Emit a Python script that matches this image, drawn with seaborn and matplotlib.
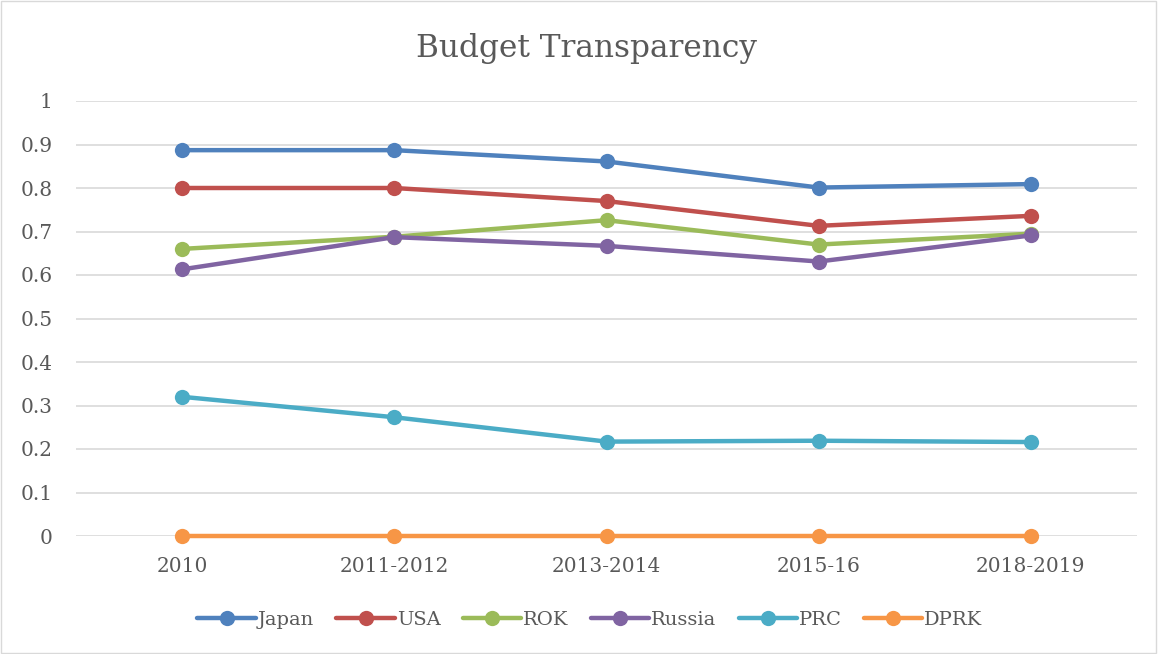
import matplotlib
matplotlib.use("Agg")
import matplotlib.pyplot as plt
import seaborn as sns
import pandas as pd
from matplotlib.lines import Line2D
from matplotlib.patches import Rectangle

periods = ["2010", "2011-2012", "2013-2014", "2015-16", "2018-2019"]
japan = [0.887, 0.887, 0.861, 0.801, 0.809]
usa = [0.800, 0.800, 0.770, 0.713, 0.736]
rok = [0.660, 0.688, 0.726, 0.670, 0.695]
russia = [0.613, 0.687, 0.667, 0.631, 0.691]
prc = [0.320, 0.273, 0.217, 0.219, 0.216]
dprk = [0.0, 0.0, 0.0, 0.0, 0.0]
countries = ["Japan", "USA", "ROK", "Russia", "PRC", "DPRK"]
colors = ["#4F81BD", "#C0504D", "#9BBB59", "#8064A2", "#4BACC6", "#F79646"]
yticks = [0, 0.1, 0.2, 0.3, 0.4, 0.5, 0.6, 0.7, 0.8, 0.9, 1]

series = [japan, usa, rok, russia, prc, dprk]
rows = []
for c, vals in zip(countries, series):
    for p, v in zip(periods, vals):
        rows.append({"Period": p, "Country": c, "Value": v})
df = pd.DataFrame(rows)

sns.set_theme(style="white")
plt.rcParams["font.family"] = ["DejaVu Serif"]
txt = "#595959"

fig = plt.figure(figsize=(11.58, 6.54), dpi=100)
ax = fig.add_axes([76 / 1158, (654 - 536) / 654, 1061 / 1158, 435 / 654])

sns.lineplot(data=df, x="Period", y="Value", hue="Country", hue_order=countries,
             palette=colors, marker="o", markersize=11, markeredgewidth=0,
             linewidth=3.2, sort=False, legend=False, ax=ax)
for ln in ax.lines:
    ln.set_clip_on(False)

ax.set_xlim(-0.5, 4.5)
ax.set_ylim(0, 1)
ax.set_yticks(yticks)
ax.set_yticklabels([f"{t:g}" for t in yticks])
ax.yaxis.grid(True, color="#D9D9D9", linewidth=1.2)
ax.set_axisbelow(True)
for s in ax.spines.values():
    s.set_visible(False)
ax.tick_params(axis="both", length=0, labelsize=14.5, colors=txt)
ax.tick_params(axis="y", pad=17)
ax.tick_params(axis="x", pad=15)
ax.set_xlabel("")
ax.set_ylabel("")

fig.text(587 / 1158, 1 - 49 / 654, "Budget Transparency", ha="center", va="center",
         fontsize=22.5, color=txt)

handles = [Line2D([0], [0], color=c, lw=3.2, marker="o", markersize=11,
                  markeredgewidth=0) for c in colors]
fig.legend(handles, countries, loc="center", bbox_to_anchor=(590 / 1158, 1 - 620 / 654),
           ncol=6, frameon=False, fontsize=14, handlelength=3.0, handletextpad=0.1,
           columnspacing=1.15, labelcolor=txt)

fig.patches.append(Rectangle((0.001, 0.001), 0.997, 0.997, transform=fig.transFigure,
                             fill=False, edgecolor="#D9D9D9", linewidth=1))

fig.savefig("out.png", dpi=100, facecolor="white")
